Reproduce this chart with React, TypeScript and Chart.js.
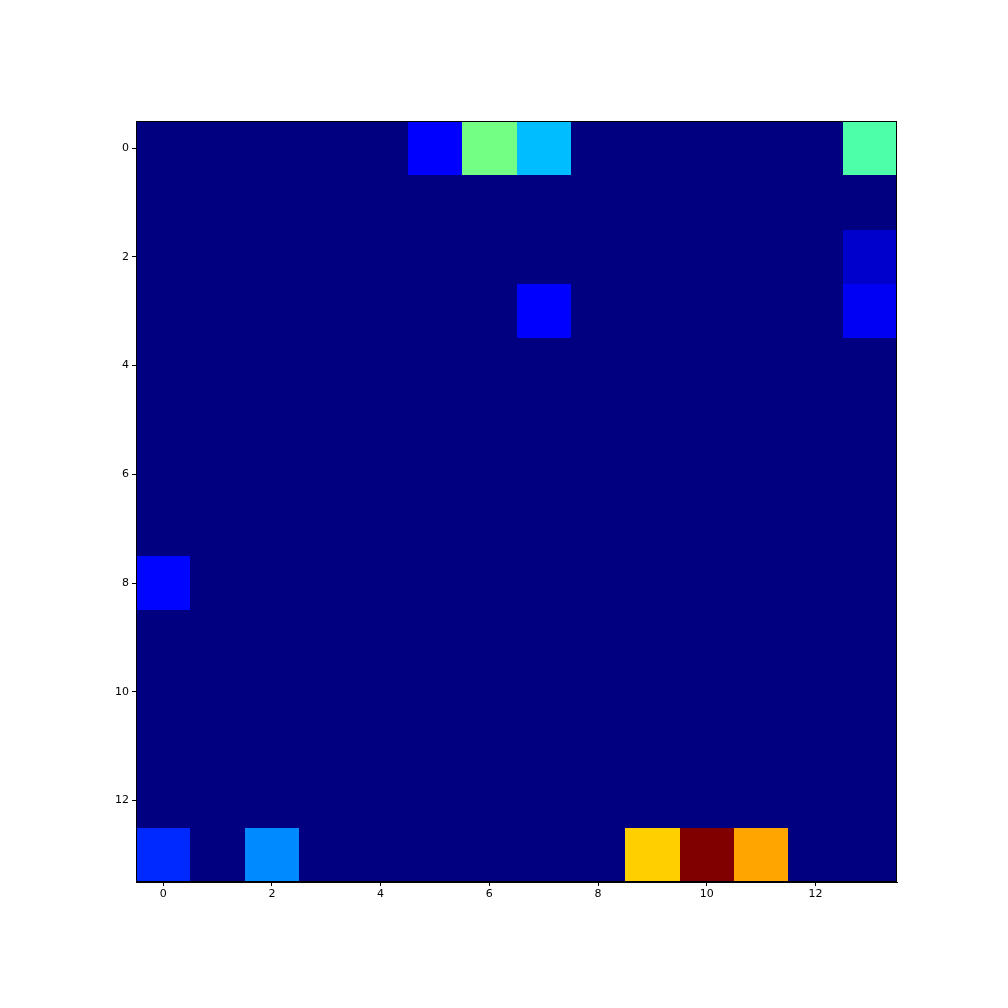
import { useEffect, useRef } from "react";
import { Chart, registerables } from "chart.js";

Chart.register(...registerables);

const rowIndices = [0, 1, 2, 3, 4, 5, 6, 7, 8, 9, 10, 11, 12, 13];
const colIndices = [0, 1, 2, 3, 4, 5, 6, 7, 8, 9, 10, 11, 12, 13];
const xTickValues = [0, 2, 4, 6, 8, 10, 12];
const yTickValues = [0, 2, 4, 6, 8, 10, 12];

// cell values per row (normalized, max = 1)
const row0 = [0, 0, 0, 0, 0, 0.12, 0.49, 0.31, 0, 0, 0, 0, 0, 0.445];
const row1 = [0, 0, 0, 0, 0, 0, 0, 0, 0, 0, 0, 0, 0, 0];
const row2 = [0, 0, 0, 0, 0, 0, 0, 0, 0, 0, 0, 0, 0, 0.066];
const row3 = [0, 0, 0, 0, 0, 0, 0, 0.11, 0, 0, 0, 0, 0, 0.1];
const row4 = [0, 0, 0, 0, 0, 0, 0, 0, 0, 0, 0, 0, 0, 0];
const row5 = [0, 0, 0, 0, 0, 0, 0, 0, 0, 0, 0, 0, 0, 0];
const row6 = [0, 0, 0, 0, 0, 0, 0, 0, 0, 0, 0, 0, 0, 0];
const row7 = [0, 0, 0, 0, 0, 0, 0, 0, 0, 0, 0, 0, 0, 0];
const row8 = [0.13, 0, 0, 0, 0, 0, 0, 0, 0, 0, 0, 0, 0, 0];
const row9 = [0, 0, 0, 0, 0, 0, 0, 0, 0, 0, 0, 0, 0, 0];
const row10 = [0, 0, 0, 0, 0, 0, 0, 0, 0, 0, 0, 0, 0, 0];
const row11 = [0, 0, 0, 0, 0, 0, 0, 0, 0, 0, 0, 0, 0, 0];
const row12 = [0, 0, 0, 0, 0, 0, 0, 0, 0, 0, 0, 0, 0, 0];
const row13 = [0.165, 0, 0.26, 0, 0, 0, 0, 0, 0, 0.69, 1, 0.735, 0, 0];

const cellRows = [row0, row1, row2, row3, row4, row5, row6, row7, row8, row9, row10, row11, row12, row13];

function interp(points: number[][], v: number): number {
  for (let i = 0; i < points.length - 1; i++) {
    const [x0, y0] = points[i];
    const [x1, y1] = points[i + 1];
    if (v >= x0 && v <= x1) {
      return y0 + ((v - x0) / (x1 - x0 || 1)) * (y1 - y0);
    }
  }
  return points[points.length - 1][1];
}

function jet(v: number): string {
  const t = Math.max(0, Math.min(1, v));
  const r = interp([[0, 0], [0.35, 0], [0.66, 1], [0.89, 1], [1, 0.5]], t);
  const g = interp([[0, 0], [0.125, 0], [0.375, 1], [0.64, 1], [0.91, 0], [1, 0]], t);
  const b = interp([[0, 0.5], [0.11, 1], [0.34, 1], [0.65, 0], [1, 0]], t);
  return `rgb(${Math.round(r * 255)},${Math.round(g * 255)},${Math.round(b * 255)})`;
}

const heatmapPlugin = {
  id: "heatmapCells",
  beforeDatasetsDraw(chart: any) {
    const { ctx, chartArea, scales } = chart;
    const xs = scales.x;
    const ys = scales.y;
    const ds = chart.data.datasets[0];
    let vmax = 0;
    ds.data.forEach((d: any) => (vmax = Math.max(vmax, d.v)));
    ctx.save();
    ctx.beginPath();
    ctx.rect(chartArea.left, chartArea.top, chartArea.right - chartArea.left, chartArea.bottom - chartArea.top);
    ctx.clip();
    ds.data.forEach((d: any) => {
      const x0 = Math.round(xs.getPixelForValue(d.x - 0.5));
      const x1 = Math.round(xs.getPixelForValue(d.x + 0.5));
      const y0 = Math.round(ys.getPixelForValue(d.y - 0.5));
      const y1 = Math.round(ys.getPixelForValue(d.y + 0.5));
      ctx.fillStyle = jet(vmax > 0 ? d.v / vmax : 0);
      const left = Math.min(x0, x1);
      const top = Math.min(y0, y1);
      ctx.fillRect(left, top, Math.abs(x1 - x0), Math.abs(y1 - y0));
    });
    ctx.restore();
  },
  afterDraw(chart: any) {
    const { ctx, chartArea } = chart;
    ctx.save();
    ctx.strokeStyle = "#000";
    ctx.lineWidth = 1;
    ctx.strokeRect(
      Math.round(chartArea.left) + 0.5,
      Math.round(chartArea.top) + 0.5,
      Math.round(chartArea.right - chartArea.left) - 1,
      Math.round(chartArea.bottom - chartArea.top) - 1
    );
    ctx.restore();
  },
};

export default function App() {
  const canvasRef = useRef<HTMLCanvasElement | null>(null);

  useEffect(() => {
    document.body.style.margin = "0";
    if (!canvasRef.current) return;
    const points: any[] = [];
    rowIndices.forEach((r) => {
      colIndices.forEach((c) => {
        points.push({ x: c, y: r, v: cellRows[r][c] });
      });
    });
    const tickFont = { family: "DejaVu Sans", size: 11 };
    const chart = new Chart(canvasRef.current, {
      type: "scatter",
      data: {
        datasets: [
          {
            data: points,
            pointRadius: 0,
            pointHoverRadius: 0,
          },
        ],
      },
      options: {
        animation: false,
        responsive: false,
        events: [],
        layout: { padding: { left: 0, right: 111, top: 121, bottom: 0 } },
        plugins: { legend: { display: false }, tooltip: { enabled: false } },
        scales: {
          x: {
            type: "linear",
            min: -0.5,
            max: 13.5,
            afterBuildTicks: (scale: any) => {
              scale.ticks = xTickValues.map((v) => ({ value: v }));
            },
            afterFit: (scale: any) => {
              scale.height = 126;
            },
            ticks: { color: "#000", font: tickFont, padding: 2, autoSkip: false, maxRotation: 0 },
            grid: { drawOnChartArea: false, drawTicks: true, tickLength: 4, color: "#000", tickColor: "#000" },
            border: { display: true, color: "#000" },
          },
          y: {
            type: "linear",
            reverse: true,
            min: -0.5,
            max: 13.5,
            afterBuildTicks: (scale: any) => {
              scale.ticks = yTickValues.map((v) => ({ value: v }));
            },
            afterFit: (scale: any) => {
              scale.width = 136;
            },
            ticks: { color: "#000", font: tickFont, padding: 3, autoSkip: false },
            grid: { drawOnChartArea: false, drawTicks: true, tickLength: 4, color: "#000", tickColor: "#000" },
            border: { display: true, color: "#000" },
          },
        },
      },
      plugins: [heatmapPlugin],
    } as any);
    return () => chart.destroy();
  }, []);

  return (
    <div style={{ position: "absolute", left: 0, top: 0, width: 1008, height: 1008, background: "#fff" }}>
      <canvas ref={canvasRef} width={1008} height={1008} style={{ width: 1008, height: 1008 }} />
    </div>
  );
}
